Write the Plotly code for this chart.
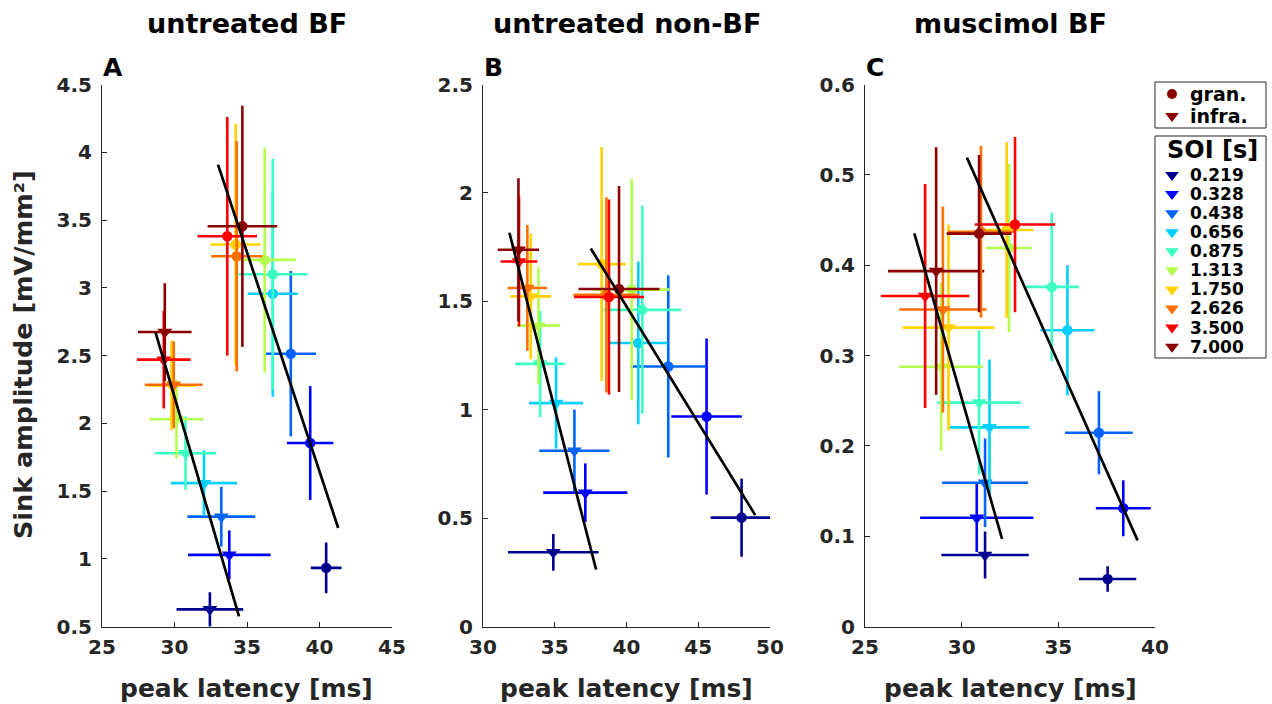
import numpy as np
import plotly.graph_objects as go

# ---------------- data ----------------
soi_labels = ["0.219", "0.328", "0.438", "0.656", "0.875", "1.313", "1.750", "2.626", "3.500", "7.000"]
soi_colors = ["#00008f", "#0000ff", "#0064ff", "#00cfff", "#3cffc3",
              "#b4ff4b", "#ffd200", "#ff6e00", "#ff0000", "#8b0000"]

# Panel A: untreated BF
a_infra_x = [32.44, 33.78, 33.23, 32.03, 30.76, 30.14, 29.80, 29.95, 29.26, 29.33]
a_infra_y = [0.628, 1.030, 1.312, 1.559, 1.780, 2.030, 2.280, 2.285, 2.470, 2.674]
a_infra_xerr = [2.30, 2.85, 2.34, 2.28, 2.12, 1.85, 1.70, 2.00, 1.85, 1.85]
a_infra_yerr = [0.127, 0.18, 0.22, 0.24, 0.27, 0.29, 0.33, 0.32, 0.36, 0.36]
a_gran_x = [40.46, 39.36, 38.02, 36.78, 36.78, 36.22, 34.22, 34.29, 33.64, 34.68]
a_gran_y = [0.934, 1.855, 2.514, 2.956, 3.100, 3.206, 3.320, 3.233, 3.380, 3.454]
a_gran_xerr = [1.06, 1.60, 1.74, 1.73, 2.37, 2.15, 1.73, 1.77, 2.05, 2.40]
a_gran_yerr = [0.187, 0.42, 0.61, 0.76, 0.85, 0.83, 0.89, 0.85, 0.88, 0.89]

# Panel B: untreated non-BF
b_infra_x = [34.90, 37.13, 36.37, 35.09, 33.98, 33.86, 33.33, 33.09, 32.51, 32.47]
b_infra_y = [0.343, 0.618, 0.811, 1.031, 1.212, 1.388, 1.523, 1.562, 1.684, 1.738]
b_infra_xerr = [3.15, 2.93, 2.45, 1.88, 1.74, 1.50, 1.42, 1.37, 1.28, 1.44]
b_infra_yerr = [0.085, 0.135, 0.19, 0.21, 0.245, 0.27, 0.29, 0.29, 0.30, 0.33]
b_gran_x = [48.02, 45.58, 42.91, 40.82, 41.10, 40.36, 38.27, 38.60, 38.78, 39.48]
b_gran_y = [0.503, 0.969, 1.200, 1.308, 1.461, 1.554, 1.672, 1.530, 1.520, 1.557]
b_gran_xerr = [2.16, 2.46, 2.65, 2.05, 2.70, 2.65, 1.68, 2.30, 2.44, 2.82]
b_gran_yerr = [0.18, 0.36, 0.42, 0.375, 0.48, 0.51, 0.54, 0.45, 0.45, 0.475]

# Panel C: muscimol BF
c_infra_x = [31.21, 30.78, 31.21, 31.44, 30.90, 28.94, 29.32, 29.03, 28.11, 28.68]
c_infra_y = [0.0793, 0.1206, 0.1593, 0.2206, 0.248, 0.2876, 0.331, 0.351, 0.366, 0.3935]
c_infra_xerr = [2.26, 2.93, 2.22, 2.07, 2.16, 2.18, 2.37, 2.26, 2.29, 2.49]
c_infra_yerr = [0.026, 0.038, 0.049, 0.075, 0.080, 0.093, 0.114, 0.114, 0.124, 0.137]
c_gran_x = [37.55, 38.36, 37.10, 35.47, 34.66, 32.45, 32.33, 31.00, 32.76, 30.90]
c_gran_y = [0.0528, 0.131, 0.2146, 0.328, 0.376, 0.419, 0.439, 0.437, 0.445, 0.435]
c_gran_xerr = [1.48, 1.42, 1.75, 1.40, 1.40, 1.20, 1.38, 1.70, 2.08, 1.68]
c_gran_yerr = [0.014, 0.031, 0.046, 0.072, 0.082, 0.093, 0.097, 0.095, 0.097, 0.087]

# x-extent of the drawn regression lines
a_fit_infra_xrange = [28.69, 34.45]
a_fit_gran_xrange = [33.00, 41.29]
b_fit_infra_xrange = [31.84, 37.88]
b_fit_gran_xrange = [37.51, 48.97]
c_fit_infra_xrange = [27.55, 32.09]
c_fit_gran_xrange = [30.27, 39.10]

# axes ticks
a_xticks = [25, 30, 35, 40, 45]
a_yticks = [0.5, 1, 1.5, 2, 2.5, 3, 3.5, 4, 4.5]
a_yticklabels = ["0.5", "1", "1.5", "2", "2.5", "3", "3.5", "4", "4.5"]
b_xticks = [30, 35, 40, 45, 50]
b_yticks = [0, 0.5, 1, 1.5, 2, 2.5]
b_yticklabels = ["0", "0.5", "1", "1.5", "2", "2.5"]
c_xticks = [25, 30, 35, 40]
c_yticks = [0, 0.1, 0.2, 0.3, 0.4, 0.5, 0.6]
c_yticklabels = ["0", "0.1", "0.2", "0.3", "0.4", "0.5", "0.6"]

panel_titles = ["untreated BF", "untreated non-BF", "muscimol BF"]
panel_letters = ["A", "B", "C"]
x_label = "peak latency [ms]"
y_label = "Sink amplitude [mV/mm²]"
legend_type_labels = ["gran.", "infra."]
legend_title = "SOI [s]"

# ---------------- figure ----------------
W, H = 1272, 704
def px(x): return x / W
def py(y): return 1 - y / H

panels = [
    dict(ix=a_infra_x, iy=a_infra_y, ixe=a_infra_xerr, iye=a_infra_yerr,
         gx=a_gran_x, gy=a_gran_y, gxe=a_gran_xerr, gye=a_gran_yerr,
         fi=a_fit_infra_xrange, fg=a_fit_gran_xrange,
         xr=[25, 45], yr=[0.5, 4.5], xt=a_xticks, yt=a_yticks, ytl=a_yticklabels,
         dom=[px(102), px(392)]),
    dict(ix=b_infra_x, iy=b_infra_y, ixe=b_infra_xerr, iye=b_infra_yerr,
         gx=b_gran_x, gy=b_gran_y, gxe=b_gran_xerr, gye=b_gran_yerr,
         fi=b_fit_infra_xrange, fg=b_fit_gran_xrange,
         xr=[30, 50], yr=[0, 2.5], xt=b_xticks, yt=b_yticks, ytl=b_yticklabels,
         dom=[px(483), px(770)]),
    dict(ix=c_infra_x, iy=c_infra_y, ixe=c_infra_xerr, iye=c_infra_yerr,
         gx=c_gran_x, gy=c_gran_y, gxe=c_gran_xerr, gye=c_gran_yerr,
         fi=c_fit_infra_xrange, fg=c_fit_gran_xrange,
         xr=[25, 40], yr=[0, 0.6], xt=c_xticks, yt=c_yticks, ytl=c_yticklabels,
         dom=[px(865), px(1155)]),
]
ydom = [py(626.7), py(84.5)]

fig = go.Figure()
axcol = "#262626"
tickfont = dict(family="DejaVu Sans", size=20, color=axcol, weight="bold")

def add_points(xs, ys, xe, ye, symbol, size, xa, ya):
    for i in range(len(xs)):
        c = soi_colors[i]
        fig.add_trace(go.Scatter(
            x=[xs[i]], y=[ys[i]], mode="markers", xaxis=xa, yaxis=ya,
            marker=dict(symbol=symbol, size=size, color=c, line=dict(width=0)),
            error_x=dict(type="data", array=[xe[i]], color=c, thickness=2.6, width=0),
            error_y=dict(type="data", array=[ye[i]], color=c, thickness=2.6, width=0),
            showlegend=False, hoverinfo="x+y"))

def add_fit(xs, ys, xrng, xa, ya):
    slope, icpt = np.polyfit(np.array(xs), np.array(ys), 1)
    xx = np.array(xrng)
    fig.add_trace(go.Scatter(x=xx, y=slope * xx + icpt, mode="lines", xaxis=xa, yaxis=ya,
                             line=dict(color="black", width=2.7), showlegend=False,
                             hoverinfo="skip"))

for k, p in enumerate(panels):
    sfx = "" if k == 0 else str(k + 1)
    xa, ya = "x" + sfx, "y" + sfx
    add_points(p["ix"], p["iy"], p["ixe"], p["iye"], "triangle-down", 13, xa, ya)
    add_points(p["gx"], p["gy"], p["gxe"], p["gye"], "circle", 10.5, xa, ya)
    add_fit(p["ix"], p["iy"], p["fi"], xa, ya)
    add_fit(p["gx"], p["gy"], p["fg"], xa, ya)
    common = dict(showline=True, linecolor=axcol, linewidth=1, ticks="inside", ticklen=5,
                  tickwidth=1, tickcolor=axcol, showgrid=False, zeroline=False,
                  tickfont=tickfont, mirror=False, fixedrange=True, automargin=False)
    fig.layout["xaxis" + sfx] = dict(common, domain=p["dom"], range=p["xr"], tickvals=p["xt"],
                                     ticktext=[str(v) for v in p["xt"]], anchor=ya,
                                     ticklabelstandoff=2)
    fig.layout["yaxis" + sfx] = dict(common, domain=ydom, range=p["yr"], tickvals=p["yt"],
                                     ticktext=p["ytl"], anchor=xa, ticklabelstandoff=5)

# legend markers on a pixel-coordinate overlay axis
leg_marker_x = 1172
leg_type_rows = [94, 116]
leg_soi_row0, leg_soi_step = 175, 19.07
fig.add_trace(go.Scatter(x=[leg_marker_x], y=[leg_type_rows[0]], mode="markers",
                         xaxis="x4", yaxis="y4",
                         marker=dict(symbol="circle", size=10, color=soi_colors[-1]),
                         showlegend=False, hoverinfo="skip"))
fig.add_trace(go.Scatter(x=[leg_marker_x], y=[leg_type_rows[1]], mode="markers",
                         xaxis="x4", yaxis="y4",
                         marker=dict(symbol="triangle-down", size=12, color=soi_colors[-1]),
                         showlegend=False, hoverinfo="skip"))
soi_rows = [leg_soi_row0 + i * leg_soi_step for i in range(len(soi_labels))]
fig.add_trace(go.Scatter(x=[leg_marker_x] * len(soi_labels), y=soi_rows, mode="markers",
                         xaxis="x4", yaxis="y4",
                         marker=dict(symbol="triangle-down", size=12, color=soi_colors),
                         showlegend=False, hoverinfo="skip"))
fig.layout["xaxis4"] = dict(domain=[0, 1], range=[0, W], visible=False, anchor="y4",
                            fixedrange=True, automargin=False)
fig.layout["yaxis4"] = dict(domain=[0, 1], range=[H, 0], visible=False, anchor="x4",
                            fixedrange=True, automargin=False)

ann = []
for k, p in enumerate(panels):
    cx = (p["dom"][0] + p["dom"][1]) / 2
    ann.append(dict(x=cx, y=py(23), xref="paper", yref="paper", text=panel_titles[k],
                    showarrow=False, xanchor="center", yanchor="middle",
                    font=dict(family="DejaVu Sans", size=27, color="black", weight="bold")))
    ann.append(dict(x=p["dom"][0] - 0.001, y=py(67), xref="paper", yref="paper", text=panel_letters[k],
                    showarrow=False, xanchor="left", yanchor="middle",
                    font=dict(family="DejaVu Sans", size=25, color="black", weight="bold")))
    ann.append(dict(x=cx, y=py(688), xref="paper", yref="paper", text=x_label,
                    showarrow=False, xanchor="center", yanchor="middle",
                    font=dict(family="DejaVu Sans", size=25, color=axcol, weight="bold")))
ann.append(dict(x=px(23), y=py(355), xref="paper", yref="paper", text=y_label, textangle=-90,
                showarrow=False, xanchor="center", yanchor="middle",
                font=dict(family="DejaVu Sans", size=25.5, color=axcol, weight="bold")))
for lab, row in zip(legend_type_labels, leg_type_rows):
    ann.append(dict(x=px(1188), y=py(row), xref="paper", yref="paper", text=lab,
                    showarrow=False, xanchor="left", yanchor="middle",
                    font=dict(family="DejaVu Sans", size=19, color="black", weight="bold")))
ann.append(dict(x=px(1212), y=py(150), xref="paper", yref="paper", text=legend_title,
                showarrow=False, xanchor="center", yanchor="middle",
                font=dict(family="DejaVu Sans", size=24, color="black", weight="bold")))
for lab, row in zip(soi_labels, soi_rows):
    ann.append(dict(x=px(1188), y=py(row), xref="paper", yref="paper", text=lab,
                    showarrow=False, xanchor="left", yanchor="middle",
                    font=dict(family="DejaVu Sans", size=17, color="black", weight="bold")))

shapes = [
    dict(type="rect", xref="paper", yref="paper", x0=px(1155), x1=px(1266), y0=py(128), y1=py(82),
         line=dict(color=axcol, width=1), fillcolor="rgba(0,0,0,0)"),
    dict(type="rect", xref="paper", yref="paper", x0=px(1155), x1=px(1266), y0=py(358), y1=py(136),
         line=dict(color=axcol, width=1), fillcolor="rgba(0,0,0,0)"),
]

fig.update_layout(width=W, height=H, margin=dict(l=0, r=0, t=0, b=0),
                  paper_bgcolor="white", plot_bgcolor="rgba(0,0,0,0)",
                  showlegend=False, annotations=ann, shapes=shapes,
                  font=dict(family="DejaVu Sans"))

fig.write_html("out.html")
